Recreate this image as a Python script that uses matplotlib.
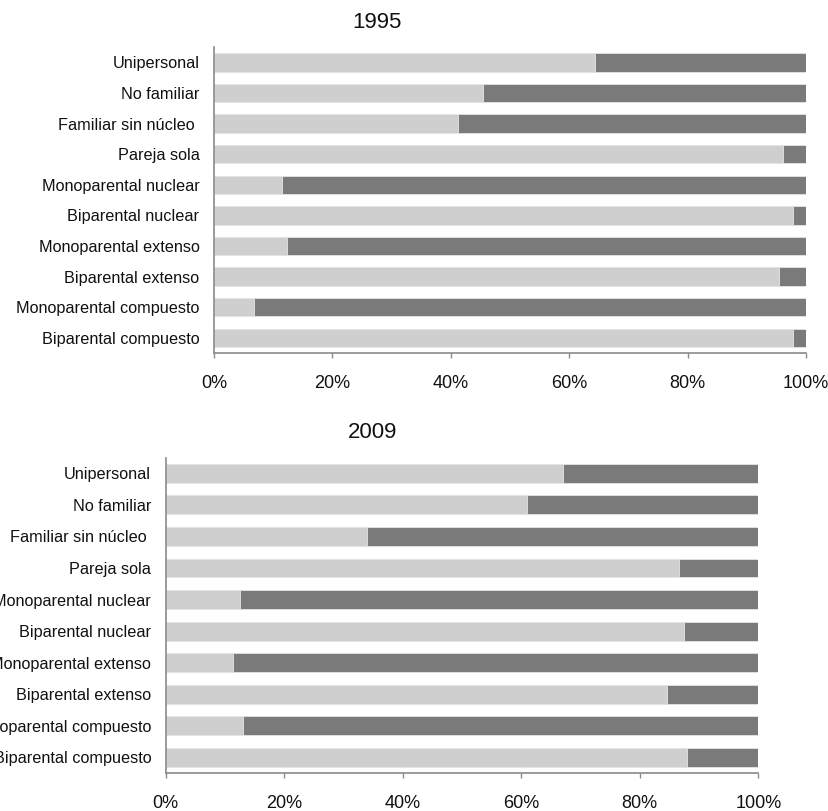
import matplotlib
matplotlib.use("Agg")
import matplotlib.pyplot as plt
from matplotlib.ticker import PercentFormatter

# categorias (de arriba hacia abajo)
categorias = ["Unipersonal", "No familiar", "Familiar sin núcleo ", "Pareja sola",
              "Monoparental nuclear", "Biparental nuclear", "Monoparental extenso",
              "Biparental extenso", "Monoparental compuesto", "Biparental compuesto"]

# porcentaje de la serie clara (el resto es la serie oscura)
claro_1995 = [64.4, 45.4, 41.2, 96.1, 11.5, 97.8, 12.3, 95.4, 6.8, 97.8]
claro_2009 = [67.1, 61.0, 34.0, 86.7, 12.5, 87.4, 11.3, 84.6, 13.0, 87.9]

x_ticks = [0, 20, 40, 60, 80, 100]

col_claro = "#cfcfcf"
col_oscuro = "#7a7a7a"
col_eje = "#8a8a8a"

plt.rcParams["font.family"] = ["Liberation Sans", "DejaVu Sans"]

fig = plt.figure(figsize=(8.29, 8.11), dpi=100)


def dibujar(ax, claro):
    oscuro = [100 - v for v in claro]
    y = list(range(len(categorias)))
    ax.barh(y, claro, height=0.6, color=col_claro, edgecolor="#e4e4e4", linewidth=0.6)
    ax.barh(y, oscuro, left=claro, height=0.6, color=col_oscuro, edgecolor="#e4e4e4", linewidth=0.6)
    ax.set_yticks(y)
    ax.set_yticklabels(categorias, fontsize=11.7, color="#111111")
    ax.set_ylim(len(categorias) - 0.5, -0.5)
    ax.set_xlim(0, 100)
    ax.set_xticks(x_ticks)
    ax.xaxis.set_major_formatter(PercentFormatter(decimals=0))
    # tamaños en puntos (100 dpi): 5 px de marca, ~15 px de separación
    ax.tick_params(axis="x", length=3.6, width=1, color=col_eje, pad=12.5,
                   labelsize=13, labelcolor="#111111")
    ax.tick_params(axis="y", length=0, pad=10.5)
    for s in ["top", "right"]:
        ax.spines[s].set_visible(False)
    for s in ["left", "bottom"]:
        ax.spines[s].set_color(col_eje)
        ax.spines[s].set_linewidth(1.2)


ax1 = fig.add_axes([0.2581, 0.5647, 0.7141, 0.3773])
dibujar(ax1, claro_1995)
ax2 = fig.add_axes([0.1999, 0.0469, 0.7148, 0.3888])
dibujar(ax2, claro_2009)

fig.text(377 / 829, 1 - 22 / 811, "1995", ha="center", va="center", fontsize=16, color="#111111")
fig.text(373 / 829, 1 - 432 / 811, "2009", ha="center", va="center", fontsize=16, color="#111111")

fig.savefig("out.png", dpi=100)
